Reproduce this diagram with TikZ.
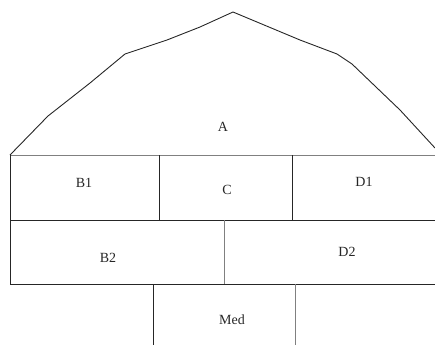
\documentclass[tikz,border=0pt]{standalone}
\usepackage{fontspec}
\setmainfont{Liberation Serif}
\begin{document}
\begin{tikzpicture}[x=1pt,y=-1pt,
  wall/.style={draw=black!85,line width=0.9pt},
  thin/.style={draw=black!50,line width=0.8pt},
  lbl/.style={font=\fontsize{14}{14}\selectfont,inner sep=0pt,text=black!85}]
\useasboundingbox (0,0) rectangle (435,345);
% roof
\draw[wall,line join=round] (10,155) -- (48,116) -- (90,83) -- (125,54) -- (167,40) -- (200,27) -- (233,12)
  -- (300,40) -- (337,54) -- (352,64) -- (400,110) -- (435,148);
% rows
\draw[thin] (10,155) -- (435,155);
\draw[wall] (10,155) -- (10,284);
\draw[wall] (10,220) -- (435,220);
\draw[wall] (10,284) -- (435,284);
\draw[wall] (159,155) -- (159,220);
\draw[wall] (292,155) -- (292,220);
\draw[thin] (224,220) -- (224,284);
\draw[wall] (153,284) -- (153,345);
\draw[thin] (295,284) -- (295,345);
% labels
\node[lbl] (A) at (223,127) {A};
\node[lbl] (B1) at (84,183) {B1};
\node[lbl] (C) at (227,190) {C};
\node[lbl] (D1) at (364,182) {D1};
\node[lbl] (B2) at (108,258) {B2};
\node[lbl] (D2) at (347,252) {D2};
\node[lbl] (Med) at (232,320) {Med};
\end{tikzpicture}
\end{document}
